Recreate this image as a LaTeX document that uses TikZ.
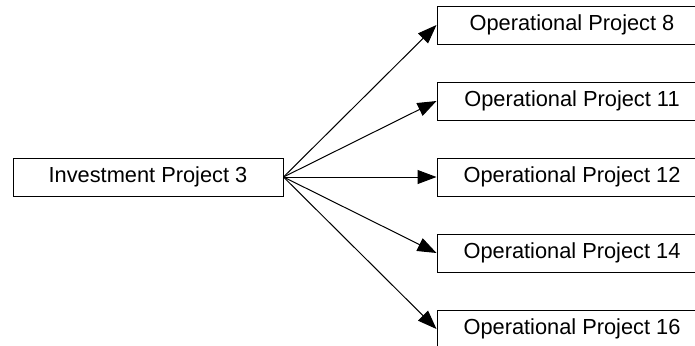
\documentclass[tikz,border=0pt]{standalone}
\usepackage{fontspec}
\setmainfont{Liberation Sans}
\usetikzlibrary{arrows.meta}
\begin{document}
\begin{tikzpicture}[x=0.5pt,y=-0.5pt,
  box/.style={draw=black,line width=0.5pt,minimum width=135pt,minimum height=19pt,inner sep=0pt,font=\fontsize{10.9}{13}\selectfont},
  link/.style={line width=0.5pt,-{Triangle[length=9.5pt,width=7pt]}}]
\useasboundingbox (0,0) rectangle (695,345);
\clip (0,0) rectangle (695,345);
\node[box] (inv) at (148,177) {Investment Project 3};
\node[box] (op8) at (572,25) {Operational Project 8};
\node[box] (op11) at (572,101) {Operational Project 11};
\node[box] (op12) at (572,177) {Operational Project 12};
\node[box] (op14) at (572,253) {Operational Project 14};
\node[box] (op16) at (572,329) {Operational Project 16};
\foreach \t in {op8,op11,op12,op14,op16}
  \draw[link] (inv.east) -- (\t.west);
\end{tikzpicture}
\end{document}
